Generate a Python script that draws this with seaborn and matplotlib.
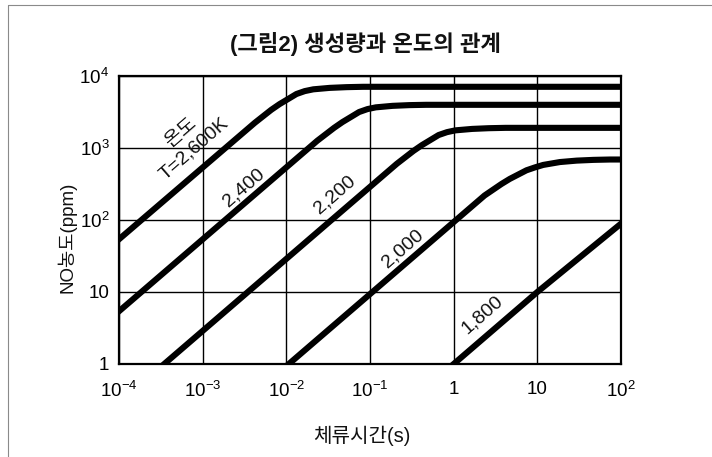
import matplotlib
matplotlib.use("Agg")
import matplotlib.pyplot as plt
from matplotlib.lines import Line2D
import pandas as pd
import seaborn as sns

# NO concentration (ppm) versus residence time (s) for each flame temperature
time_2600 = [1e-4, 0.0042, 0.0066, 0.0083, 0.0105, 0.0132, 0.0166, 0.021, 0.033, 0.0525, 0.083, 100]
no_2600 = [54, 2240, 3390, 4070, 4790, 5620, 6170, 6530, 6840, 7000, 7080, 7080]

time_2400 = [1e-4, 0.0234, 0.0372, 0.0468, 0.0589, 0.0741, 0.0933, 0.1175, 0.186, 0.295, 0.468, 100]
no_2400 = [5.4, 1260, 1905, 2290, 2690, 3160, 3470, 3670, 3850, 3940, 3980, 3980]

time_2200 = [3.47e-4, 0.209, 0.331, 0.417, 0.525, 0.661, 0.832, 1.047, 1.66, 2.63, 4.17, 100]
no_2200 = [1.0, 603, 912, 1096, 1288, 1514, 1660, 1758, 1841, 1884, 1905, 1905]

time_2000 = [0.0107, 2.34, 3.72, 4.68, 5.89, 7.41, 9.33, 11.75, 18.6, 29.5, 46.8, 74.1, 100]
no_2000 = [1.0, 219, 316, 372, 427, 490, 537, 582, 638, 668, 684, 692, 692]

time_1800 = [1.0, 10, 100]
no_1800 = [1.0, 10, 89]

temp_labels = ["온도\nT=2,600K", "2,400", "2,200", "2,000", "1,800"]
label_time = [6.6e-4, 3.1e-3, 3.8e-2, 0.25, 2.2]
label_no = [1250, 285, 228, 40, 4.9]

x_ticks = [1e-4, 1e-3, 1e-2, 1e-1, 1, 10, 100]
x_ticklabels = [r"$\mathregular{10^{-4}}$", r"$\mathregular{10^{-3}}$", r"$\mathregular{10^{-2}}$",
                r"$\mathregular{10^{-1}}$", "1", "10", r"$\mathregular{10^{2}}$"]
y_ticks = [1, 10, 100, 1000, 10000]
y_ticklabels = ["1", "10", r"$\mathregular{10^{2}}$", r"$\mathregular{10^{3}}$", r"$\mathregular{10^{4}}$"]

title = "(그림2) 생성량과 온도의 관계"
x_title = "체류시간(s)"
y_title = "NO농도(ppm)"

sns.set_theme(style="white")
plt.rcParams["font.family"] = ["Liberation Sans", "Noto Sans CJK KR"]
plt.rcParams["mathtext.fontset"] = "custom"
plt.rcParams["mathtext.rm"] = "Liberation Sans"
plt.rcParams["mathtext.it"] = "Liberation Sans:italic"
plt.rcParams["mathtext.bf"] = "Liberation Sans:bold"

series = [("2600", time_2600, no_2600), ("2400", time_2400, no_2400),
          ("2200", time_2200, no_2200), ("2000", time_2000, no_2000),
          ("1800", time_1800, no_1800)]
df = pd.concat([pd.DataFrame({"temp": name, "time": t, "no": n}) for name, t, n in series],
               ignore_index=True)

fig = plt.figure(figsize=(7.12, 4.57), dpi=100)
ax = fig.add_axes([119 / 712, 1 - 364 / 457, 502 / 712, 288 / 457])

sns.lineplot(data=df, x="time", y="no", hue="temp", palette=["black"] * 5,
             estimator=None, sort=False, legend=False, lw=4.4, ax=ax)
for ln in ax.lines:
    ln.set_solid_capstyle("projecting")
    ln.set_zorder(3)

ax.set_xscale("log")
ax.set_yscale("log")
ax.set_xlim(1e-4, 1e2)
ax.set_ylim(1, 1e4)
ax.minorticks_off()
ax.set_xticks(x_ticks)
ax.set_xticklabels(x_ticklabels)
ax.set_yticks(y_ticks)
ax.set_yticklabels(y_ticklabels)
ax.tick_params(direction="out", length=4, width=1, colors="black", labelsize=13.5, pad=3)
ax.tick_params(axis="x", pad=8)
ax.grid(True, which="major", color="black", lw=1.0)
ax.set_axisbelow(True)
for sp in ax.spines.values():
    sp.set_visible(True)
    sp.set_color("black")
    sp.set_linewidth(1.6)

ax.set_xlabel(x_title, fontsize=14.5, color="#111111")
ax.xaxis.set_label_coords(0.484, -0.215)
ax.set_ylabel(y_title, fontsize=13.5, color="#111111")
ax.yaxis.set_label_coords(-0.085, 0.44)

for txt, t, n in zip(temp_labels, label_time, label_no):
    ax.text(t, n, txt, rotation=41, rotation_mode="anchor", ha="center", va="center",
            fontsize=14, color="#111111", linespacing=1.35, multialignment="center")

fig.text(366 / 712, 1 - 44 / 457, title, ha="center", va="center", fontsize=16,
         fontweight="bold", color="#111111")

# thin frame around the figure
fig.add_artist(Line2D([8 / 712, 8 / 712], [0, 1 - 5 / 457], transform=fig.transFigure,
                      color="#8a8a8a", lw=0.8))
fig.add_artist(Line2D([8 / 712, 1], [1 - 5 / 457, 1 - 5 / 457], transform=fig.transFigure,
                      color="#8a8a8a", lw=0.8))

fig.savefig("out.png", dpi=100)
